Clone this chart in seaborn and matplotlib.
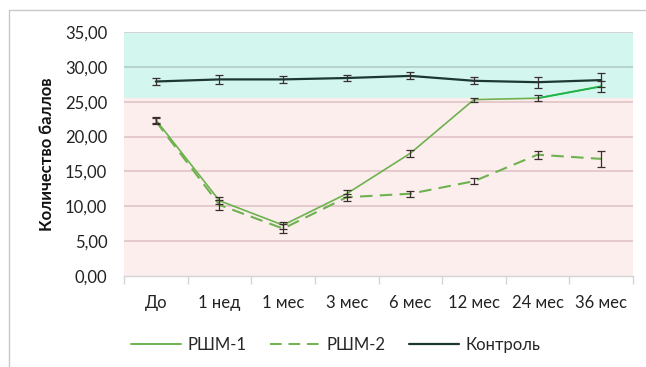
import matplotlib
matplotlib.use("Agg")
import matplotlib.pyplot as plt
from matplotlib.lines import Line2D
from matplotlib.ticker import FuncFormatter, FixedLocator
import numpy as np
import pandas as pd
import seaborn as sns

# Time points and mean scores (± error) per group
periods = ["До", "1 нед", "1 мес", "3 мес", "6 мес", "12 мес", "24 мес", "36 мес"]
rshm1 = [22.4, 10.8, 7.3, 11.8, 17.6, 25.3, 25.5, 27.2]
rshm1_err = [0.4, 0.5, 0.5, 0.5, 0.5, 0.3, 0.4, 0.8]
rshm2 = [22.2, 10.2, 6.8, 11.3, 11.8, 13.6, 17.4, 16.8]
rshm2_err = [0.4, 0.7, 0.6, 0.5, 0.4, 0.4, 0.6, 1.2]
control = [27.9, 28.2, 28.2, 28.4, 28.7, 28.0, 27.8, 28.1]
control_err = [0.5, 0.6, 0.5, 0.5, 0.5, 0.5, 0.8, 1.0]
series_names = ["РШМ-1", "РШМ-2", "Контроль"]
norm_threshold = 25.5
y_ticks = [0, 5, 10, 15, 20, 25, 30, 35]

sns.set_theme(style="white")
plt.rcParams["font.family"] = ["Lato", "DejaVu Sans"]

colors = {"РШМ-1": "#6db24f", "РШМ-2": "#6db24f", "Контроль": "#1d3833"}
err_color = "#3b2e2e"
fs = 12

df = pd.DataFrame({
    "x": list(range(len(periods))) * 3,
    "value": rshm1 + rshm2 + control,
    "series": [s for s in series_names for _ in periods],
})

fig = plt.figure(figsize=(6.46, 3.67), dpi=100)
ax = fig.add_axes([124 / 646, 1 - 276 / 367, (633 - 124) / 646, (276 - 32) / 367])

# background zones
ax.axhspan(0, norm_threshold, color="#fdeeee", zorder=0, lw=0)
ax.axhspan(norm_threshold, 35, color="#d3f6ef", zorder=0, lw=0)
for v in y_ticks[1:]:
    if v == 35:
        c = "#d4d4d4"
    elif v > norm_threshold:
        c = "#b5d3cc"
    else:
        c = "#e4c9cc"
    ax.axhline(v, color=c, lw=1.4, zorder=0.5)

sns.lineplot(data=df, x="x", y="value", hue="series", style="series",
             palette=colors,
             dashes={"РШМ-1": "", "РШМ-2": (6, 3.5), "Контроль": ""},
             size="series", sizes={"РШМ-1": 1.2, "РШМ-2": 1.5, "Контроль": 1.6},
             legend=False, ax=ax, zorder=3)

xs = np.arange(len(periods))
# last segment of РШМ-1 in a brighter green
ax.plot(xs[-2:], rshm1[-2:], color="#1db54a", lw=1.3, zorder=3.2)

for vals, errs in [(rshm1, rshm1_err), (rshm2, rshm2_err), (control, control_err)]:
    ax.errorbar(xs, vals, yerr=errs, fmt="none", ecolor=err_color,
                elinewidth=0.9, capsize=3, capthick=0.9, zorder=4)

ax.set_xlim(-0.5, len(periods) - 0.5)
ax.set_ylim(0, 35)
ax.set_yticks(y_ticks)
ax.yaxis.set_major_formatter(FuncFormatter(lambda v, p: f"{v:.2f}".replace(".", ",")))
ax.set_xticks(xs)
ax.set_xticklabels(periods)
ax.xaxis.set_minor_locator(FixedLocator(np.arange(-0.5, len(periods), 1.0)))
ax.tick_params(axis="x", which="major", length=0, pad=14, labelsize=fs, colors="#222222")
ax.tick_params(axis="x", which="minor", length=6, width=1, color="#d4d4d4", bottom=True, direction="out")
ax.tick_params(axis="y", length=0, pad=12, labelsize=fs, colors="#222222")
ax.set_xlabel("")
ax.set_ylabel("Количество баллов", fontsize=fs, fontweight="bold", color="#111111", labelpad=7)

for side in ["top", "right", "left"]:
    ax.spines[side].set_visible(False)
ax.spines["bottom"].set_color("#d4d4d4")
ax.spines["bottom"].set_linewidth(1)
ax.set_facecolor("none")

handles = [
    Line2D([], [], color=colors["РШМ-1"], lw=1.4),
    Line2D([], [], color=colors["РШМ-2"], lw=1.4, dashes=(6, 3.5)),
    Line2D([], [], color=colors["Контроль"], lw=1.6),
]
fig.legend(handles, series_names, loc="center", bbox_to_anchor=(0.52, 1 - 345 / 367),
           ncol=3, frameon=False, fontsize=fs, handlelength=3.0, columnspacing=1.4,
           handletextpad=0.4)

# chart frame
fig.add_artist(Line2D([8.5 / 646, 1], [1 - 10 / 367, 1 - 10 / 367], color="#c8c8c8", lw=1,
                      transform=fig.transFigure))
fig.add_artist(Line2D([8.5 / 646, 8.5 / 646], [0, 1 - 10 / 367], color="#c8c8c8", lw=1,
                      transform=fig.transFigure))

fig.savefig("out.png", dpi=100)
